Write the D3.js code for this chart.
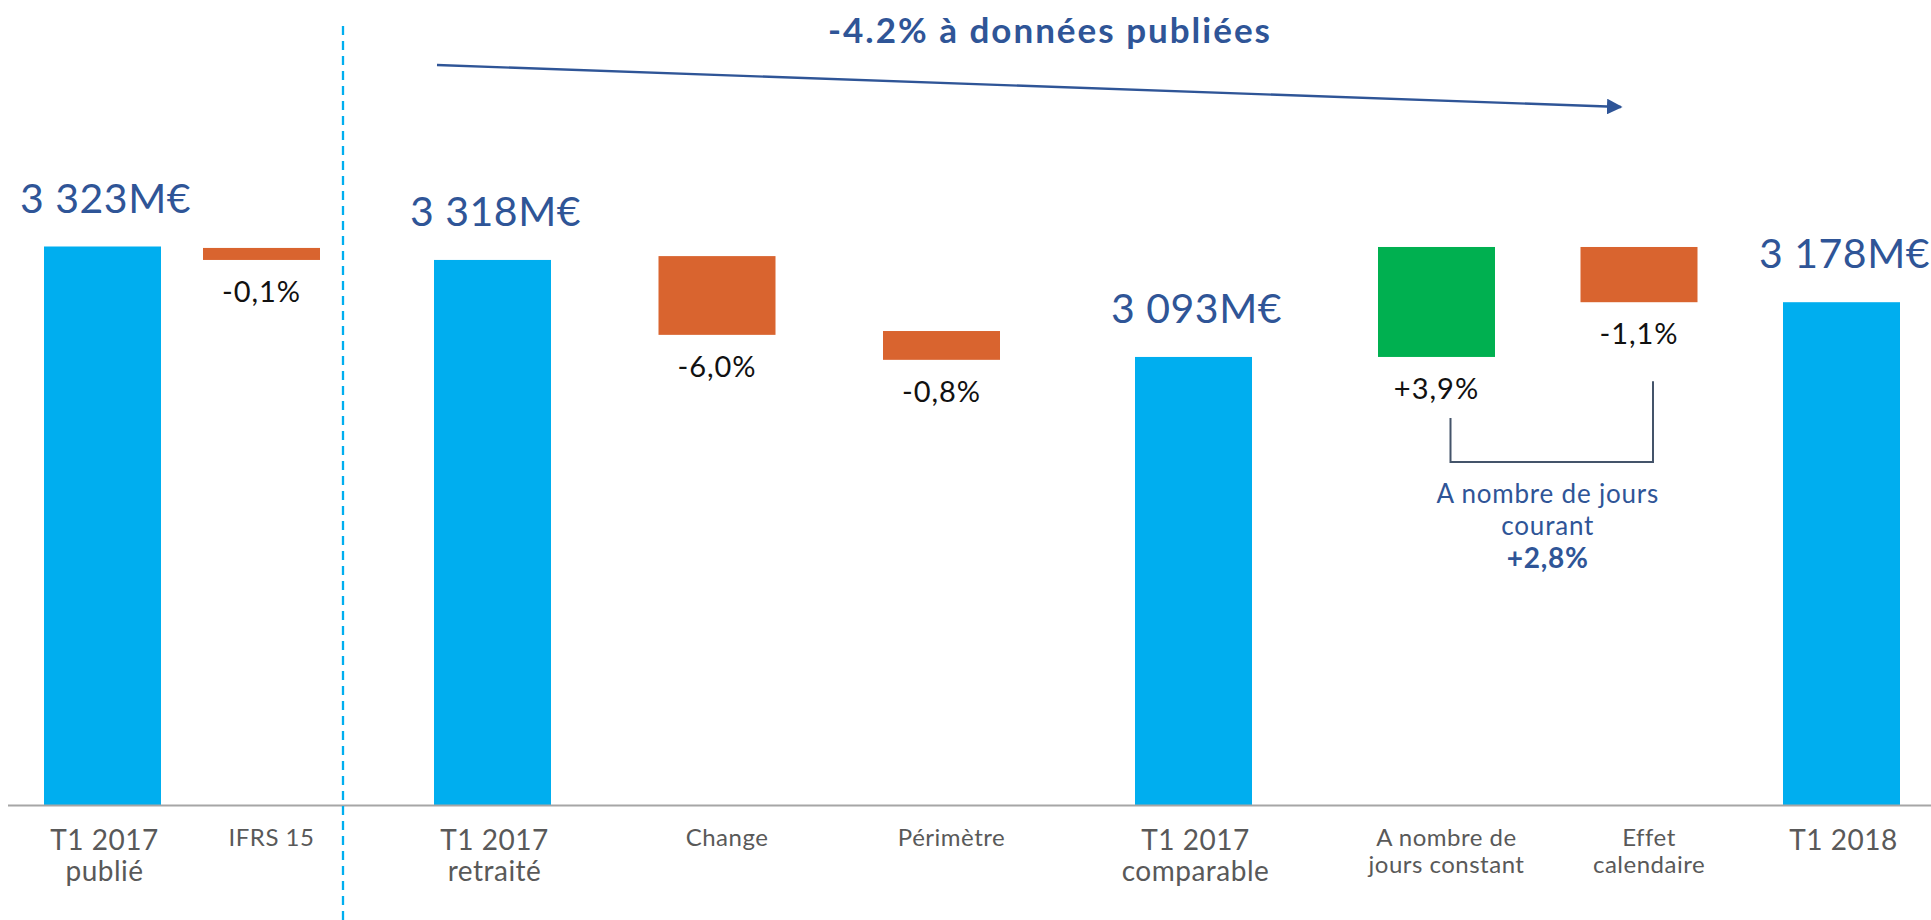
<!DOCTYPE html>
<html>
<head>
<meta charset="utf-8">
<script src="https://d3js.org/d3.v7.min.js"></script>
<style>
  body { margin: 0; background: #fff; }
  svg text { font-family: "Lato", "Open Sans", sans-serif; }
</style>
</head>
<body>
<div id="chart"></div>
<script>
  // categories (\n = line break), group of bars, kind of bar
  var categories = ["T1 2017\npublié", "IFRS 15", "T1 2017\nretraité", "Change", "Périmètre",
                    "T1 2017\ncomparable", "A nombre de\njours constant", "Effet\ncalendaire", "T1 2018"];
  var groups = [0, 0, 1, 1, 1, 2, 3, 3, 3];
  var kinds = ["total", "down", "total", "down", "down", "total", "up", "down", "total"];

  // bar extents (M€, axis cut at 2160)
  var barLow = [2160, 3295, 2160, 3139, 3087, 2160, 3093, 3207, 2160];
  var barHigh = [3323, 3320, 3295, 3303, 3147, 3093, 3322, 3322, 3207];

  var valueLabels = ["3 323M€", "-0,1%", "3 318M€", "-6,0%", "-0,8%", "3 093M€", "+3,9%", "-1,1%", "3 178M€"];

  var title = "-4.2% à données publiées";
  var bracketLabel = ["A nombre de jours", "courant"];
  var bracketValue = "+2,8%";

  var W = 1931, H = 920;
  var baseY = 805;
  var barWidth = 117;
  var colors = { total: "#00aeef", down: "#d9642f", up: "#00b050" };
  var darkBlue = "#2f5597";

  var svg = d3.select("#chart").append("svg")
    .attr("width", W)
    .attr("height", H);

  var yScale = d3.scaleLinear()
    .domain([2160, 3323])
    .range([baseY, 246.5]);

  // one band scale per group of bars
  var groupRanges = [[44, 320], [434, 1000], [1135, 1252], [1378, 1900]];
  var groupScales = groupRanges.map(function(r, g) {
    var dom = categories.filter(function(c, i) { return groups[i] === g; });
    var n = dom.length;
    var step = n > 1 ? (r[1] - r[0] - barWidth) / (n - 1) : barWidth;
    return d3.scaleBand()
      .domain(dom)
      .range(r)
      .paddingInner(n > 1 ? 1 - barWidth / step : 0)
      .paddingOuter(0);
  });
  function xLeft(i) { return groupScales[groups[i]](categories[i]); }
  function xMid(i) { return xLeft(i) + groupScales[groups[i]].bandwidth() / 2; }

  // bars
  svg.selectAll("rect.bar")
    .data(categories)
    .enter().append("rect")
    .attr("class", "bar")
    .attr("x", function(d, i) { return xLeft(i); })
    .attr("width", function(d, i) { return groupScales[groups[i]].bandwidth(); })
    .attr("y", function(d, i) { return yScale(barHigh[i]); })
    .attr("height", function(d, i) { return yScale(barLow[i]) - yScale(barHigh[i]); })
    .attr("fill", function(d, i) { return colors[kinds[i]]; });

  // baseline
  svg.append("line")
    .attr("x1", 8).attr("x2", W)
    .attr("y1", baseY + 0.5).attr("y2", baseY + 0.5)
    .attr("stroke", "#a6a6a6")
    .attr("stroke-width", 2);

  // separator
  svg.append("line")
    .attr("x1", 343).attr("x2", 343)
    .attr("y1", 26).attr("y2", H)
    .attr("stroke", "#00aeef")
    .attr("stroke-width", 2.3)
    .attr("stroke-dasharray", "9,6");

  // value labels
  svg.selectAll("text.value")
    .data(valueLabels)
    .enter().append("text")
    .attr("class", "value")
    .attr("x", function(d, i) { return xMid(i) + (kinds[i] === "total" ? 3 : 0); })
    .attr("y", function(d, i) {
      return kinds[i] === "total" ? yScale(barHigh[i]) - 34 : yScale(barLow[i]) + 42;
    })
    .attr("text-anchor", "middle")
    .attr("fill", function(d, i) { return kinds[i] === "total" ? darkBlue : "#111"; })
    .style("font-size", function(d, i) { return kinds[i] === "total" ? "41px" : "29px"; })
    .style("letter-spacing", function(d, i) { return kinds[i] === "total" ? "0.5px" : "1px"; })
    .text(function(d) { return d; });

  // category labels
  var cat = svg.selectAll("text.cat")
    .data(categories)
    .enter().append("text")
    .attr("class", "cat")
    .attr("text-anchor", "middle")
    .attr("fill", "#595959")
    .style("font-size", function(d, i) { return kinds[i] === "total" ? "28px" : "24px"; })
    .style("letter-spacing", "0.5px")
    .attr("transform", function(d, i) {
      var big = kinds[i] === "total";
      return "translate(" + (xMid(i) + (big ? 2 : 10)) + "," + (big ? 850 : 846) + ")";
    });
  cat.each(function(d, i) {
    var big = kinds[i] === "total";
    d3.select(this).selectAll("tspan")
      .data(d.split("\n"))
      .enter().append("tspan")
      .attr("x", 0)
      .attr("y", function(l, j) { return j * (big ? 31 : 27); })
      .text(function(l) { return l; });
  });

  // title + trend arrow
  svg.append("defs").append("marker")
    .attr("id", "head")
    .attr("viewBox", "0 0 10 10")
    .attr("refX", 9).attr("refY", 5)
    .attr("markerWidth", 6.5).attr("markerHeight", 6.5)
    .attr("markerUnits", "strokeWidth")
    .attr("orient", "auto")
    .append("path")
    .attr("d", "M0,0L10,5L0,10Z")
    .attr("fill", darkBlue);

  svg.append("line")
    .attr("x1", 437).attr("y1", 65)
    .attr("x2", 1621).attr("y2", 107)
    .attr("stroke", darkBlue)
    .attr("stroke-width", 2.4)
    .attr("marker-end", "url(#head)");

  svg.append("text")
    .attr("x", 1050).attr("y", 43)
    .attr("text-anchor", "middle")
    .attr("fill", darkBlue)
    .style("font-size", "35px")
    .style("letter-spacing", "2px")
    .style("font-weight", "bold")
    .text(title);

  // bracket joining "A nombre de jours constant" and "Effet calendaire"
  var bx1 = xMid(6) + 14, bx2 = xMid(7) + 14, bBottom = 462;
  svg.append("path")
    .attr("d", "M" + bx1 + "," + (yScale(barLow[6]) + 61) + "V" + bBottom +
               "H" + bx2 + "V" + (yScale(barLow[7]) + 79))
    .attr("fill", "none")
    .attr("stroke", "#44546a")
    .attr("stroke-width", 2);

  var bt = svg.append("text")
    .attr("text-anchor", "middle")
    .attr("fill", darkBlue)
    .style("font-size", "26px")
    .style("letter-spacing", "0.8px")
    .attr("transform", "translate(" + ((bx1 + bx2) / 2 - 4) + ",503)");
  bt.selectAll("tspan.l")
    .data(bracketLabel)
    .enter().append("tspan")
    .attr("class", "l")
    .attr("x", 0)
    .attr("y", function(d, j) { return j * 32; })
    .text(function(d) { return d; });
  bt.append("tspan")
    .attr("x", 0).attr("y", 65)
    .style("font-weight", "bold")
    .style("font-size", "28px")
    .text(bracketValue);
</script>
</body>
</html>
